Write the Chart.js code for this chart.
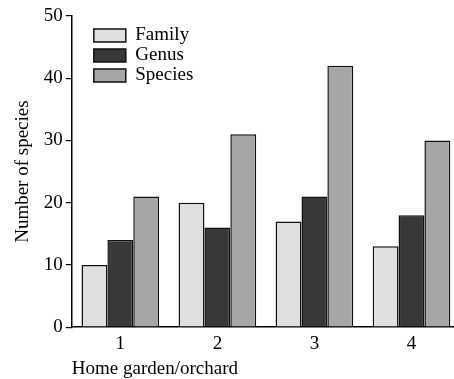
<!DOCTYPE html>
<html>
<head>
<meta charset="utf-8">
<script src="https://cdn.jsdelivr.net/npm/chart.js@4"></script>
<style>
  html, body { margin: 0; padding: 0; background: #fff; overflow: hidden; }
  #wrap { width: 462px; height: 379px; }
</style>
</head>
<body>
<div id="wrap"><canvas id="chart"></canvas></div>
<script>
// values
const gardens = ['1', '2', '3', '4'];
const familyCounts = [10, 20, 17, 13];
const genusCounts = [14, 16, 21, 18];
const speciesCounts = [21, 31, 42, 30];
const yTicks = [0, 10, 20, 30, 40, 50];

const serif = 'Liberation Serif, Times New Roman, serif';

// nudge the legend into the upper left of the plot, like the original
const legendNudge = {
    id: 'legendNudge',
    afterLayout(chart) {
        const lg = chart.legend;
        if (!lg) return;
        lg.left = chart.chartArea.left + 21;
        lg.top = chart.chartArea.top + 9;
    }
};

const ctx = document.getElementById('chart').getContext('2d');
const chart = new Chart(ctx, {
    type: 'bar',
    data: {
        labels: gardens,
        datasets: [
            { label: 'Family', data: familyCounts, backgroundColor: '#dfdfdf', borderColor: '#111', borderWidth: 1.5 },
            { label: 'Genus', data: genusCounts, backgroundColor: '#383838', borderColor: '#111', borderWidth: 1.5 },
            { label: 'Species', data: speciesCounts, backgroundColor: '#a6a6a6', borderColor: '#111', borderWidth: 1.5 }
        ]
    },
    options: {
        responsive: true,
        maintainAspectRatio: false,
        animation: false,
        layout: { padding: { top: 16, left: 12, right: 2, bottom: 0 } },
        datasets: { bar: { categoryPercentage: 0.8, barPercentage: 1.0 } },
        plugins: {
            tooltip: { enabled: false },
            legend: {
                position: 'chartArea',
                align: 'start',
                labels: {
                    color: '#000',
                    font: { family: serif, size: 19 },
                    boxWidth: 32,
                    boxHeight: 13,
                    padding: 1
                }
            }
        },
        scales: {
            x: {
                grid: { display: false, drawTicks: false },
                border: { display: true, color: '#000', width: 1.5 },
                ticks: { color: '#000', font: { family: serif, size: 19 }, padding: 5 },
                title: {
                    display: true,
                    text: 'Home garden/orchard',
                    align: 'start',
                    color: '#000',
                    font: { family: serif, size: 19, lineHeight: 1.0 },
                    padding: { top: 0, bottom: 0 }
                }
            },
            y: {
                min: 0,
                max: 50,
                afterBuildTicks: axis => { axis.ticks = yTicks.map(v => ({ value: v })); },
                grid: { drawOnChartArea: false, drawTicks: true, tickLength: 6, color: '#000', lineWidth: 1.2 },
                border: { display: true, color: '#000', width: 1.5 },
                ticks: { color: '#000', font: { family: serif, size: 19 }, padding: 3 },
                title: {
                    display: true,
                    text: 'Number of species',
                    color: '#000',
                    font: { family: serif, size: 19 },
                    padding: { top: 0, bottom: 6 }
                }
            }
        }
    },
    plugins: [legendNudge]
});
</script>
</body>
</html>
